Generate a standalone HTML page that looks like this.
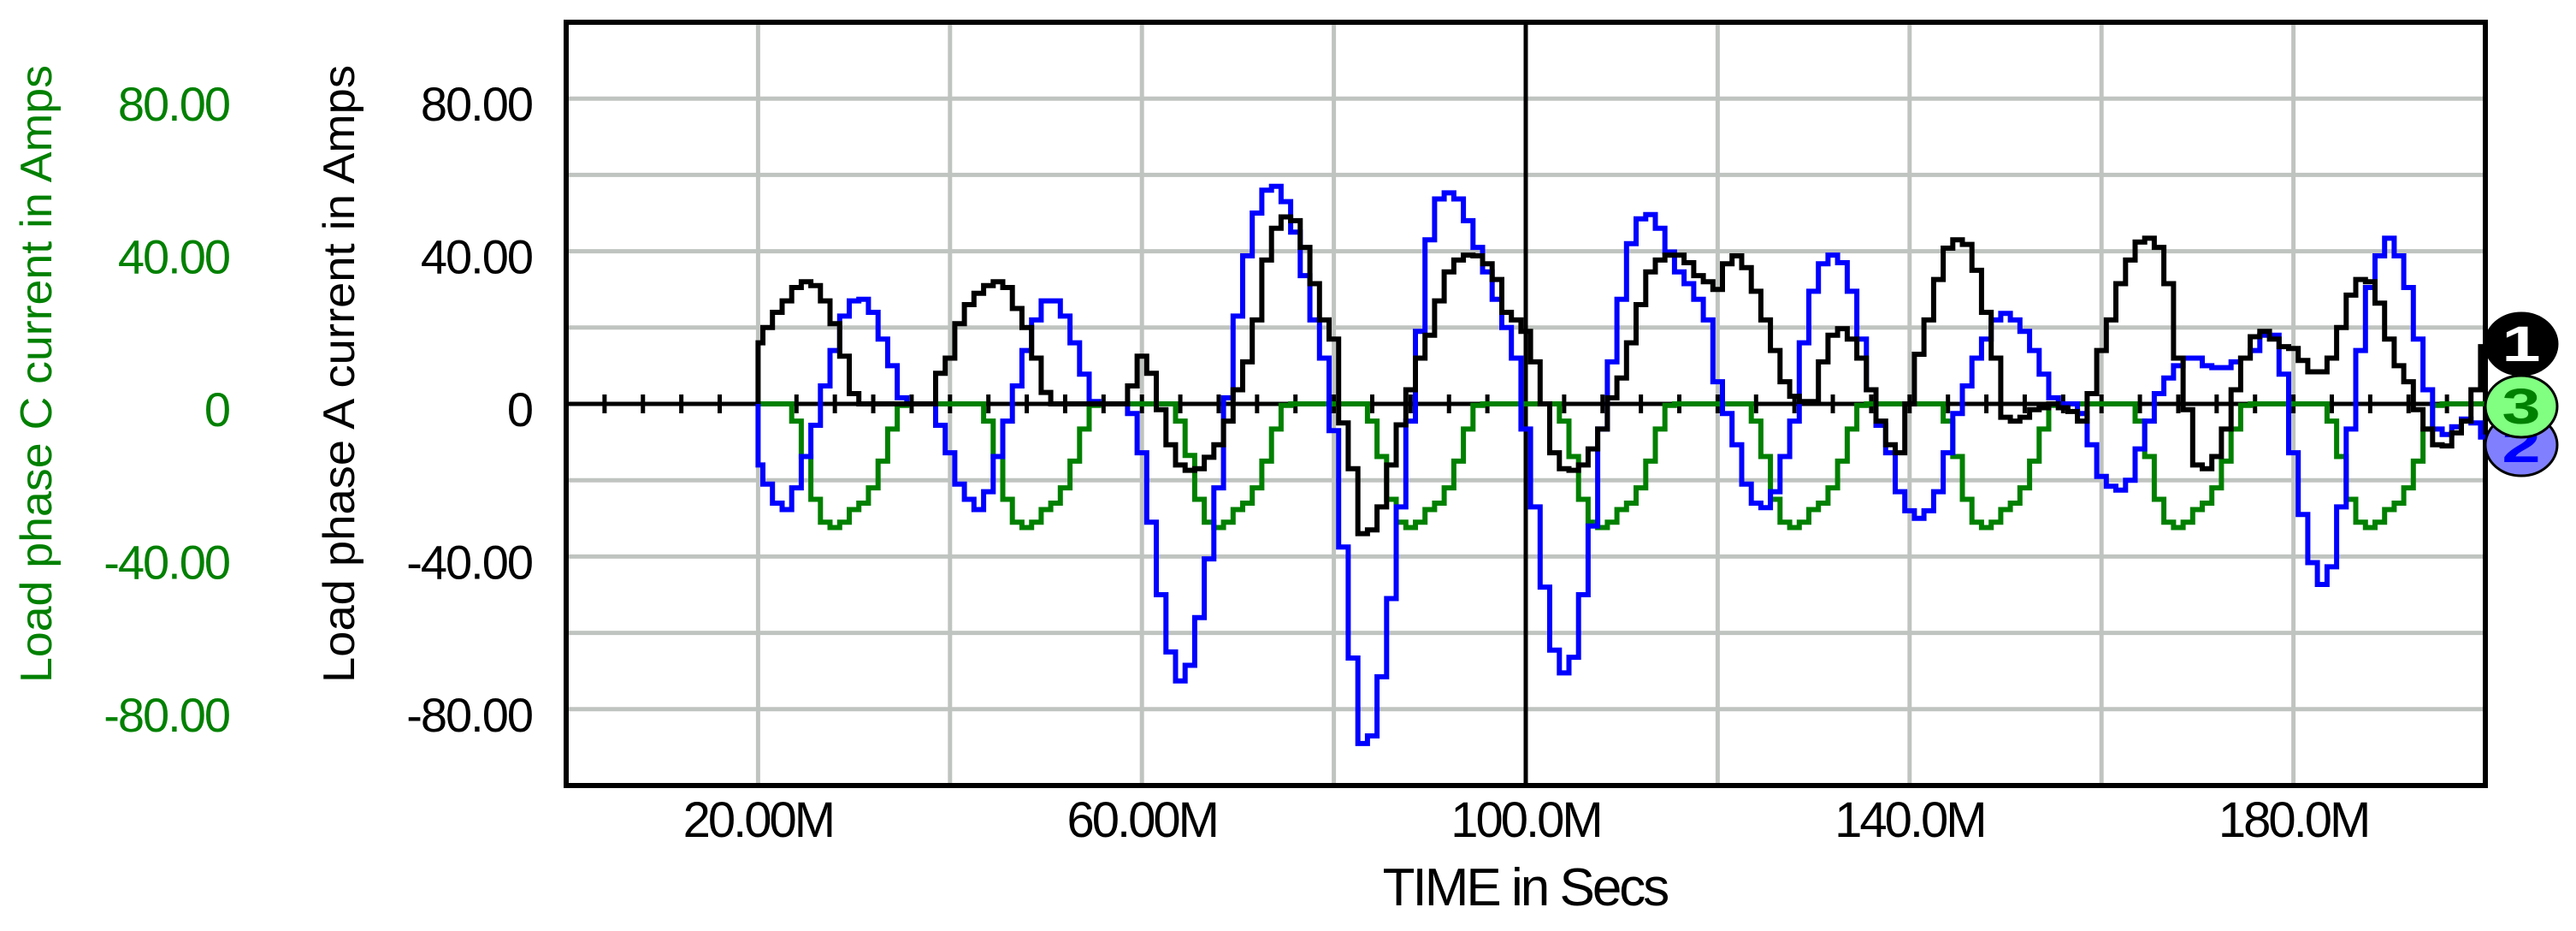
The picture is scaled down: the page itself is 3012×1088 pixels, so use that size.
<!DOCTYPE html>
<html><head><meta charset="utf-8"><style>
html,body{margin:0;padding:0;background:#fff;}
svg{display:block;font-family:"Liberation Sans",Arial,sans-serif;}
</style></head><body>
<svg id="chart" width="3012" height="1088" viewBox="0 0 3012 1088" xmlns="http://www.w3.org/2000/svg">
<rect x="0" y="0" width="3012" height="1088" fill="#fff"/>
<g id="grid"></g>
<g id="axes"></g>
<g id="series"></g>
<g id="labels"></g>
<g id="markers"></g>
</svg>
<script>
const xTickValues = [20, 60, 100, 140, 180];
const xTickLabels = ["20.00M", "60.00M", "100.0M", "140.0M", "180.0M"];
const yTickValues = [80, 40, 0, -40, -80];
const yTickLabels = ["80.00", "40.00", "0", "-40.00", "-80.00"];
const timeStartM = 20;
const phaseA = [16,20,24,27,30.5,32,31,27,21,12.5,2.7,0,0,0,0,0,0,0,0,8,12,21,26,29,31,32,30.5,25,20,12,3,0,0,0,0,0,0,0,0,4.7,12.5,8,-1.5,-10.7,-16,-17.4,-17,-14,-10.7,-4.5,3.7,11,22,37.7,46,49,48,41,31.5,22,17,-5,-17,-34,-33,-27,-16,-5.5,3.7,12,18,27,34.6,37.7,39,38.8,36.7,32.6,24,22,19,11,0,-12.8,-17,-17.4,-16,-11.8,-6.6,1.6,6.8,16,26,34.6,37.7,39,39,37,33.6,32,30,36.7,38.8,35.7,29.5,22,14,5.8,2,0.6,0.6,11,18,19.7,17,12,3.7,-4.5,-10.7,-12.8,0,13,22,32.6,40.8,43,41.8,35,24,12,-3.5,-4.5,-3.5,-1.5,-1,0,-1,-2,-4.5,2.7,14,22,31.5,37.7,42.4,43.4,41,31.5,12,-1.5,-16,-17,-13.8,-6.6,3.7,12,17.6,19,17,15,14.5,11.4,8.4,8.4,12,20,28.5,32.6,32,26.4,17,10,5.8,-1.5,-6.6,-10.7,-11,-7.6,-4.5,3.7,15];
const phaseB = [-16,-21,-26,-27.7,-22,-13.8,-5.6,4.7,14,23,27,27.4,24,17,10,1.6,0,0,0,-5.6,-12.8,-21,-25,-27.7,-23,-13.8,-4.5,4.7,14,22,27,27,23,16,7.8,0.6,0,0,0,-2.5,-12.8,-31,-50,-65,-72.6,-68.5,-56,-40.6,-22,1.6,23,38.8,50,56,57,53,45,33.6,22,12,-7,-37.5,-66.6,-89,-87,-71.5,-51,-27,-4.5,19,43,53.7,55.3,53.7,48,41,34.6,27.4,20,12,-6.6,-27,-48,-64.5,-70.5,-66.4,-50,-32,-6.6,11,27.4,42,48.5,49.6,46,39.8,34.6,31.5,27.4,22,5.8,-2.5,-10.7,-21,-26,-27.2,-23,-13.8,-4.5,16,29.5,36.7,39,37,29.5,17,3.7,-5.6,-12.8,-23,-28,-30,-28,-23,-12.8,-2.5,4.7,12,17,22,23.7,22,19,14,7.8,1.6,0,0,-2.5,-10.7,-19,-21.6,-22.6,-20,-11.8,-4.5,2.7,6.8,10,12,12,10,9.5,9.5,11,12,14,18,18,7.8,-12.8,-29,-41.6,-47.3,-42.7,-27,-6.6,14,30.5,38.8,43.4,38.8,30.5,17,3.7,-6.6,-8,-6,-4,-5,-8.7];
const phaseC = [0,0,0,0,-4.5,-13.8,-25,-31,-32.4,-31,-27.7,-26,-22,-15,-6.6,-0.4,0,0,0,0,
0,0,0,0,-4.5,-13.8,-25,-31,-32.4,-31,-27.7,-26,-22,-15,-6.6,-0.4,0,0,0,0,
0,0,0,0,-4.5,-13.5,-25,-31,-32.4,-31,-27.7,-26,-22,-15,-6.6,-0.4,0,0,0,0,
0,0,0,0,-4.5,-13.8,-25,-31,-32.4,-31,-27.7,-26,-22,-15,-6.6,-0.4,0,0,0,0,
0,0,0,0,-4.5,-13.8,-25,-31,-32.4,-31,-27.7,-26,-22,-15,-6.6,-0.4,0,0,0,0,
0,0,0,0,-4.5,-13.8,-25,-31,-32.4,-31,-27.7,-26,-22,-15,-6.6,-0.4,0,0,0,0,
0,0,0,0,-4.5,-13.8,-25,-31,-32.4,-31,-27.7,-26,-22,-15,-6.6,-0.4,0,0,0,0,
0,0,0,0,-4.5,-13.8,-25,-31,-32.4,-31,-27.7,-26,-22,-15,-6.6,-0.4,0,0,0,0,
0,0,0,0,-4.5,-13.8,-25,-31,-32.4,-31,-27.7,-26,-22,-15,-6.6,-0.4,0,0,0,0,0];

const NS = "http://www.w3.org/2000/svg";
const L = 662, R = 2906, T = 26, B = 918;
const xMin = 0, xMax = 200, yMin = -100, yMax = 100;
function xs(m){ return L + (m - xMin) / (xMax - xMin) * (R - L); }
function ys(v){ return B - (v - yMin) / (yMax - yMin) * (B - T); }
function mk(tag, attrs, parent){ const e = document.createElementNS(NS, tag); for (const k in attrs) e.setAttribute(k, attrs[k]); parent.appendChild(e); return e; }

const grid = document.getElementById('grid');
const axes = document.getElementById('axes');
const ser = document.getElementById('series');
const lab = document.getElementById('labels');
const mar = document.getElementById('markers');

for (let v = -80; v <= 80; v += 20) {
  if (v === 0) continue;
  const g = mk('line', {x1: L, x2: R, y1: ys(v), y2: ys(v), stroke: '#c0c4c0', 'stroke-width': 5}, grid);
  
  
}
for (let m = 20; m <= 180; m += 20) {
  const g = mk('line', {x1: xs(m), x2: xs(m), y1: T, y2: B, stroke: m === 100 ? '#000' : '#c0c4c0', 'stroke-width': 5}, grid);
  
  
}
const z = mk('line', {x1: L, x2: R, y1: ys(0), y2: ys(0), stroke: '#000', 'stroke-width': 5}, axes);


for (let m = 4; m < 200; m += 4) {
  const t = mk('line', {x1: xs(m), x2: xs(m), y1: ys(0) - 11, y2: ys(0) + 11, stroke: '#000', 'stroke-width': 5}, axes);
  
  
}
const frame = mk('rect', {x: L, y: T, width: R - L, height: B - T, fill: 'none', stroke: '#000', 'stroke-width': 6}, axes);



function drawSeries(vals, color, name){
  let d = 'M' + xs(timeStartM).toFixed(1) + ',' + ys(0).toFixed(1);
  vals.forEach((v, i) => {
    const m = timeStartM + i;
    const x0 = xs(Math.max(m - 0.5, timeStartM)), x1 = xs(Math.min(m + 0.5, xMax)), y = ys(v);
    d += 'L' + x0.toFixed(1) + ',' + y.toFixed(1) + 'L' + x1.toFixed(1) + ',' + y.toFixed(1);
  });
  const p = mk('path', {d: d, fill: 'none', stroke: color, 'stroke-width': 6, 'stroke-linejoin': 'miter'}, ser);
  
  
}
drawSeries(phaseC, '#008000', 'series-phase-c');
drawSeries(phaseB, '#0000ff', 'series-phase-b');
drawSeries(phaseA, '#000000', 'series-phase-a');

function text(x, y, s, attrs, name){
  const t = mk('text', Object.assign({x: x, y: y}, attrs), lab);
  t.textContent = s;
  
  
  return t;
}
xTickValues.forEach((m, i) => {
  text(xs(m), 978, xTickLabels[i], {'text-anchor': 'middle', 'font-size': 58, fill: '#000', 'letter-spacing': -3}, 'x-tick-label');
});
yTickValues.forEach((v, i) => {
  text(622, ys(v) + 26, yTickLabels[i], {'text-anchor': 'end', 'font-size': 56, fill: '#000', 'letter-spacing': -2}, 'y-tick-label-a');
  text(268, ys(v) + 26, yTickLabels[i], {'text-anchor': 'end', 'font-size': 56, fill: '#008000', 'letter-spacing': -2}, 'y-tick-label-c');
});
text(1783, 1058, 'TIME in Secs', {'text-anchor': 'middle', 'font-size': 62, fill: '#000', 'letter-spacing': -3}, 'x-axis-title');
text(0, 0, 'Load phase A current in Amps', {'text-anchor': 'middle', 'font-size': 52, fill: '#000', transform: 'translate(414,437) rotate(-90)', textLength: 722, lengthAdjust: 'spacingAndGlyphs'}, 'y-axis-title-a');
text(0, 0, 'Load phase C current in Amps', {'text-anchor': 'middle', 'font-size': 52, fill: '#008000', transform: 'translate(60,437) rotate(-90)', textLength: 722, lengthAdjust: 'spacingAndGlyphs'}, 'y-axis-title-c');

function marker(cy, fill, txtColor, num, name){
  const g = mk('g', {}, mar);
  
  
  mk('ellipse', {cx: 2948, cy: cy, rx: 42, ry: 36, fill: fill, stroke: '#000', 'stroke-width': 3}, g);
  const t = mk('text', {x: 2948, y: cy + 20, 'text-anchor': 'middle', 'font-size': 58, 'font-weight': 'bold', fill: txtColor, transform: 'translate(2948,0) scale(1.4,1) translate(-2948,0)'}, g);
  t.textContent = num;
}
marker(520, '#8080ff', '#0000ff', '2', 'marker-phase-b');
marker(475, '#80ff80', '#008000', '3', 'marker-phase-c');
marker(402, '#000000', '#ffffff', '1', 'marker-phase-a');
</script>
</body></html>
